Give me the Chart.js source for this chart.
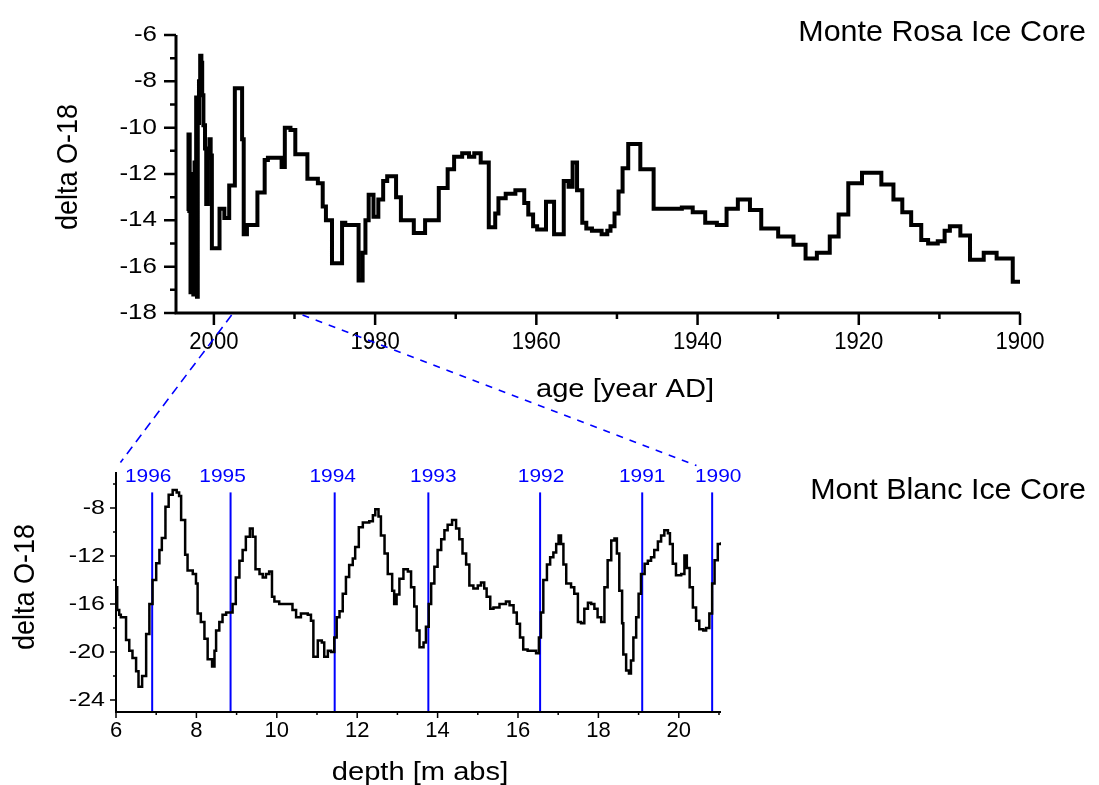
<!DOCTYPE html>
<html>
<head>
<meta charset="utf-8">
<script src="https://cdn.jsdelivr.net/npm/chart.js@4.4.1/dist/chart.umd.min.js"></script>
<style>
  html, body { margin: 0; padding: 0; background: #fff; }
  #wrap { position: relative; width: 1099px; height: 785px; }
  #wrap canvas { position: absolute; left: 0; top: 0; }
</style>
</head>
<body>
<div id="wrap">
  <canvas id="rosa" width="1099" height="785"></canvas>
  <canvas id="blanc" width="1099" height="785"></canvas>
</div>
<script>
// Monte Rosa: start year of each step and its delta O-18
var rosaYears = [
  2003.3, 2003.15, 2003.0, 2002.9, 2002.7, 2002.55, 2002.4, 2002.3, 2002.2, 2002.1,
  2002.0, 2001.85, 2001.7, 2001.55, 2001.45, 2001.3, 2001.1, 2000.95, 2000.75, 2000.55,
  2000.4, 2000.25, 1999.3, 1998.7, 1998.1, 1997.4, 1996.5, 1996.3, 1995.9, 1994.6,
  1993.7, 1993.3, 1991.6, 1991.2, 1990.5, 1989.9, 1988.4, 1987.1, 1986.5, 1986.1,
  1985.35, 1984.1, 1983.7, 1982.05, 1981.55, 1981.2, 1980.8, 1980.2, 1979.6, 1979.0,
  1978.5, 1977.4, 1976.8, 1975.2, 1973.8, 1972.1, 1971.0, 1970.2, 1969.2, 1968.35,
  1967.7, 1966.9, 1965.9, 1965.1, 1964.7, 1963.8, 1962.6, 1961.5, 1961.0, 1960.4,
  1959.9, 1958.8, 1957.8, 1956.6, 1956.0, 1955.5, 1954.95, 1954.3, 1953.8, 1953.1,
  1951.9, 1951.2, 1950.8, 1950.3, 1949.8, 1949.3, 1948.6, 1947.1, 1945.45, 1941.95,
  1940.6, 1939.05, 1937.6, 1936.4, 1935.0, 1933.5, 1932.1, 1930.0, 1928.1, 1926.6,
  1925.2, 1923.6, 1922.5, 1921.3, 1919.6, 1917.2, 1915.7, 1914.6, 1913.5, 1912.25,
  1911.4, 1910.2, 1909.35, 1908.7, 1907.4, 1906.2, 1904.5, 1902.9, 1900.9, 1900.0
];
var rosaDelta = [
  -13.6, -10.3, -12.8, -17.1, -12.0, -17.2, -11.5, -16.9, -8.7, -17.3,
  -9.8, -8.0, -6.9, -7.2, -8.6, -9.9, -10.9, -13.3, -11.3, -10.5,
  -11.2, -15.2, -13.5, -13.9, -12.5, -8.3, -10.5, -14.6, -14.2, -12.8,
  -11.4, -11.3, -11.7, -10.0, -10.1, -11.15, -12.2, -12.4, -13.4, -14.0,
  -15.85, -14.1, -14.2, -16.6, -15.4, -14.0, -12.9, -13.85, -13.1, -12.3,
  -12.1, -13.0, -14.0, -14.55, -14.0, -12.6, -11.8, -11.25, -11.1, -11.25,
  -11.1, -11.5, -14.3, -13.7, -13.05, -12.85, -12.7, -13.25, -13.75, -14.25,
  -14.4, -13.2, -14.6, -12.3, -12.55, -11.5, -12.7, -14.1, -14.35, -14.45,
  -14.6, -14.45, -14.25, -13.7, -12.75, -11.75, -10.7, -11.8, -13.5, -13.45,
  -13.65, -14.1, -14.2, -13.5, -13.1, -13.55, -14.35, -14.7, -15.05, -15.65,
  -15.4, -14.7, -13.75, -12.4, -11.95, -12.45, -13.1, -13.65, -14.2, -14.85,
  -15.0, -14.9, -14.45, -14.25, -14.65, -15.7, -15.4, -15.65, -16.65, -16.65
];

// Mont Blanc: start depth of each step [m abs] and its delta O-18
var blancDepth = [
  6.00, 6.03, 6.08, 6.12, 6.25, 6.33, 6.41, 6.50, 6.56, 6.65,
  6.75, 6.83, 6.91, 7.00, 7.08, 7.14, 7.23, 7.31, 7.41, 7.51,
  7.57, 7.62, 7.72, 7.78, 7.91, 7.99, 8.03, 8.11, 8.20, 8.28,
  8.39, 8.45, 8.49, 8.57, 8.65, 8.74, 8.90, 8.98, 9.07, 9.15,
  9.23, 9.33, 9.40, 9.47, 9.57, 9.65, 9.73, 9.81, 9.88, 9.94,
  10.06, 10.39, 10.48, 10.60, 10.77, 10.85, 10.91, 11.02, 11.12, 11.18,
  11.27, 11.35, 11.43, 11.49, 11.56, 11.64, 11.72, 11.80, 11.89, 11.95,
  12.04, 12.14, 12.30, 12.39, 12.45, 12.53, 12.59, 12.68, 12.76, 12.87,
  12.92, 12.98, 13.05, 13.15, 13.26, 13.34, 13.42, 13.48, 13.55, 13.65,
  13.71, 13.78, 13.84, 13.92, 14.00, 14.09, 14.17, 14.25, 14.36, 14.46,
  14.54, 14.62, 14.71, 14.79, 14.89, 15.00, 15.08, 15.16, 15.22, 15.31,
  15.39, 15.54, 15.70, 15.79, 15.89, 15.97, 16.05, 16.13, 16.24, 16.45,
  16.52, 16.57, 16.63, 16.72, 16.80, 16.88, 16.95, 17.01, 17.07, 17.13,
  17.20, 17.32, 17.40, 17.49, 17.57, 17.65, 17.74, 17.82, 17.90, 17.98,
  18.07, 18.15, 18.23, 18.32, 18.40, 18.46, 18.52, 18.59, 18.62, 18.69,
  18.76, 18.81, 18.87, 18.94, 19.00, 19.06, 19.15, 19.23, 19.31, 19.39,
  19.48, 19.56, 19.64, 19.73, 19.78, 19.85, 19.93, 20.06, 20.14, 20.20,
  20.27, 20.35, 20.43, 20.51, 20.61, 20.68, 20.76, 20.83, 20.89, 20.97,
  21.05
];
var blancDelta = [
  -14.6, -16.5, -16.9, -17.1, -19.0, -19.9, -20.5, -21.6, -22.9, -22.0,
  -18.5, -16.0, -14.0, -12.6, -11.5, -10.5, -7.9, -6.9, -6.5, -6.7,
  -7.0, -9.0, -11.9, -13.2, -13.5, -14.3, -16.8, -17.5, -18.9, -20.6,
  -21.2, -19.9, -18.2, -17.5, -16.9, -16.7, -16.0, -13.8, -12.4, -11.5,
  -10.4, -9.7, -10.4, -13.1, -13.5, -13.8, -13.5, -13.3, -15.4, -15.8,
  -16.0, -16.5, -17.1, -16.8, -16.9, -17.4, -20.4, -19.05, -19.2, -20.4,
  -19.9, -20.0, -18.8, -17.1, -16.6, -15.15, -13.75, -12.75, -12.2, -11.25,
  -9.6, -9.2, -9.1, -8.6, -8.1, -8.7, -10.3, -11.8, -13.5, -14.9,
  -16.0, -15.2, -13.9, -13.1, -13.3, -14.6, -16.2, -18.2, -19.6, -19.2,
  -17.9, -16.0, -14.3, -12.9, -11.5, -10.6, -9.85, -9.4, -9.0, -9.7,
  -10.6, -11.8, -12.7, -14.45, -14.7, -14.45, -14.2, -14.7, -15.4, -16.4,
  -16.3, -16.0, -15.8, -16.1, -16.7, -17.65, -18.8, -19.8, -19.9, -20.1,
  -18.8, -16.7, -14.0, -12.7, -12.1, -11.7, -11.0, -10.3, -11.0, -12.7,
  -14.3, -14.6, -15.15, -17.5, -17.6, -16.4, -15.9, -16.0, -16.4, -17.1,
  -17.5, -14.6, -12.35, -10.7, -10.55, -11.8, -14.9, -17.6, -20.2, -21.55,
  -21.8, -20.7, -18.8, -17.1, -15.15, -13.5, -12.65, -12.4, -12.1, -11.5,
  -10.8, -10.3, -9.85, -10.1, -11.0, -12.65, -13.6, -13.5, -11.95, -13.0,
  -14.6, -16.3, -17.4, -18.1, -18.2, -18.0, -16.8, -14.3, -12.35, -11.0,
  -10.85
];

// annual layer boundaries in the Mont Blanc core
var layerYears = [1996, 1995, 1994, 1993, 1992, 1991, 1990];
var layerDepth = [6.90, 8.85, 11.44, 13.77, 16.55, 19.09, 20.83];
var layerLabelShift = [-4, -8, -2, 5, 1, 0, 6];

// the Monte Rosa interval that the Mont Blanc section covers
var linkYears = [1997.8, 1989.0];
var linkDepth = [6.11, 20.44];

// ticks
var rosaYearTicks = [2000, 1980, 1960, 1940, 1920, 1900];
var rosaYearMinor = [1990, 1970, 1950, 1930, 1910];
var rosaDeltaTicks = [-6, -8, -10, -12, -14, -16, -18];
var rosaDeltaMinor = [-7, -9, -11, -13, -15, -17];
var blancDepthTicks = [6, 8, 10, 12, 14, 16, 18, 20];
var blancDepthMinor = [7, 9, 11, 13, 15, 17, 19, 21];
var blancDeltaTicks = [-8, -12, -16, -20, -24];
var blancDeltaMinor = [-6, -10, -14, -18, -22];

var FONT = '"Liberation Sans", Arial, Helvetica, sans-serif';
var BLUE = '#0000ff';

function toPoints(xs, ys) {
  return xs.map(function (x, i) { return { x: x, y: ys[i] }; });
}

// text with an optional horizontal stretch (Origin renders some glyphs wide)
function putText(ctx, str, x, y, size, o) {
  o = o || {};
  ctx.save();
  ctx.translate(x, y);
  if (o.rot) ctx.rotate(o.rot);
  ctx.scale(o.sx || 1, o.sy || 1);
  ctx.font = size + 'px ' + FONT;
  ctx.fillStyle = o.color || '#000';
  ctx.textAlign = o.align || 'center';
  ctx.textBaseline = 'middle';
  ctx.fillText(str, 0, 0);
  ctx.restore();
}

// Origin style frame: left/bottom axis lines, outward major + minor ticks, labels, titles
var framePlugin = {
  id: 'frame',
  afterDatasetsDraw: function (chart, args, o) {
    var ctx = chart.ctx, a = chart.chartArea;
    var xs = chart.scales.x, ys = chart.scales.y;
    ctx.save();
    ctx.strokeStyle = '#000';
    ctx.lineWidth = o.tickWidth;
    ctx.beginPath();
    o.xTicks.forEach(function (v) {
      var px = xs.getPixelForValue(v);
      ctx.moveTo(px, a.bottom); ctx.lineTo(px, a.bottom + o.majorLen);
    });
    o.xMinor.forEach(function (v) {
      var px = xs.getPixelForValue(v);
      ctx.moveTo(px, a.bottom); ctx.lineTo(px, a.bottom + o.minorLen);
    });
    o.yTicks.forEach(function (v) {
      var py = ys.getPixelForValue(v);
      ctx.moveTo(a.left, py); ctx.lineTo(a.left - o.majorLen, py);
    });
    o.yMinor.forEach(function (v) {
      var py = ys.getPixelForValue(v);
      ctx.moveTo(a.left, py); ctx.lineTo(a.left - o.minorLen, py);
    });
    ctx.stroke();

    ctx.lineWidth = o.axisWidth;
    ctx.lineJoin = 'miter';
    ctx.beginPath();
    ctx.moveTo(a.left, a.top);
    ctx.lineTo(a.left, a.bottom);
    ctx.lineTo(a.right, a.bottom);
    ctx.stroke();

    o.xTicks.forEach(function (v) {
      putText(ctx, String(v), xs.getPixelForValue(v), a.bottom + o.xLabelGap, o.xTickSize, { sx: o.xTickStretch });
    });
    o.yTicks.forEach(function (v) {
      putText(ctx, String(v), a.left - o.yLabelGap, ys.getPixelForValue(v), o.yTickSize, { sx: o.yTickStretch, align: 'right' });
    });

    putText(ctx, o.xTitle, o.xTitleAt[0], o.xTitleAt[1], o.titleSize, { sx: o.titleStretch });
    putText(ctx, o.yTitle, o.yTitleAt[0], o.yTitleAt[1], o.yTitleSize, { rot: -Math.PI / 2, sy: o.titleStretch });
    putText(ctx, o.name, o.nameAt[0], o.nameAt[1], o.nameSize, { sx: o.nameStretch, align: 'right' });
    ctx.restore();
  }
};

var rosaChart = new Chart(document.getElementById('rosa'), {
  type: 'scatter',
  data: {
    datasets: [{
      data: toPoints(rosaYears, rosaDelta),
      showLine: true,
      stepped: 'before',
      borderColor: '#000',
      borderWidth: 4,
      pointRadius: 0,
      fill: false
    }]
  },
  options: {
    responsive: false,
    animation: false,
    devicePixelRatio: 1,
    layout: { padding: { left: 176, top: 35, right: 79, bottom: 472 } },
    scales: {
      x: { type: 'linear', display: false, min: 1900, max: 2004.7, reverse: true },
      y: { type: 'linear', display: false, min: -18, max: -6 }
    },
    plugins: {
      legend: { display: false },
      tooltip: { enabled: false },
      frame: {
        xTicks: rosaYearTicks, xMinor: rosaYearMinor,
        yTicks: rosaDeltaTicks, yMinor: rosaDeltaMinor,
        majorLen: 12, minorLen: 6, tickWidth: 2.5, axisWidth: 3,
        xTickSize: 24, xTickStretch: 0.92, xLabelGap: 29,
        yTickSize: 22, yTickStretch: 1.18, yLabelGap: 19,
        titleSize: 26, titleStretch: 1.12, yTitleSize: 27,
        xTitle: 'age [year AD]', xTitleAt: [625, 390],
        yTitle: 'delta O-18', yTitleAt: [69, 167],
        name: 'Monte Rosa Ice Core', nameAt: [1086, 33], nameSize: 29, nameStretch: 1.05
      }
    }
  },
  plugins: [framePlugin]
});

// blue layer markers and the dashed links up to the Monte Rosa axis
var layerPlugin = {
  id: 'layers',
  beforeDatasetsDraw: function (chart) {
    var ctx = chart.ctx, a = chart.chartArea;
    var xs = chart.scales.x, ys = chart.scales.y;
    ctx.save();
    ctx.strokeStyle = BLUE;
    ctx.lineWidth = 2;
    layerDepth.forEach(function (d, i) {
      var px = xs.getPixelForValue(d);
      ctx.beginPath();
      ctx.moveTo(px, ys.getPixelForValue(-6.7));
      ctx.lineTo(px, a.bottom);
      ctx.stroke();
      putText(ctx, String(layerYears[i]), px + layerLabelShift[i], a.top + 5, 19, { sx: 1.1, color: BLUE });
    });
    ctx.restore();
  },
  afterDraw: function (chart) {
    var ctx = chart.ctx, a = chart.chartArea;
    var xs = chart.scales.x;
    var rx = rosaChart.scales.x, ry = rosaChart.scales.y;
    var dashes = [[9, 6], [7, 7]];
    var drop = [9.5, 6.5];
    ctx.save();
    ctx.strokeStyle = BLUE;
    ctx.lineWidth = 1.6;
    linkYears.forEach(function (yr, i) {
      ctx.setLineDash(dashes[i]);
      ctx.beginPath();
      ctx.moveTo(rx.getPixelForValue(yr), ry.getPixelForValue(-18) + 2);
      ctx.lineTo(xs.getPixelForValue(linkDepth[i]), a.top - drop[i]);
      ctx.stroke();
    });
    ctx.restore();
  }
};

var blancChart = new Chart(document.getElementById('blanc'), {
  type: 'scatter',
  data: {
    datasets: [{
      data: toPoints(blancDepth, blancDelta),
      showLine: true,
      stepped: 'before',
      borderColor: '#000',
      borderWidth: 2.5,
      pointRadius: 0,
      fill: false
    }]
  },
  options: {
    responsive: false,
    animation: false,
    devicePixelRatio: 1,
    layout: { padding: { left: 116, top: 472, right: 378, bottom: 73 } },
    scales: {
      x: { type: 'linear', display: false, min: 6, max: 21.05 },
      y: { type: 'linear', display: false, min: -25, max: -5 }
    },
    plugins: {
      legend: { display: false },
      tooltip: { enabled: false },
      frame: {
        xTicks: blancDepthTicks, xMinor: blancDepthMinor,
        yTicks: blancDeltaTicks, yMinor: blancDeltaMinor,
        majorLen: 6, minorLen: 3, tickWidth: 1.5, axisWidth: 2,
        xTickSize: 22, xTickStretch: 1.0, xLabelGap: 19,
        yTickSize: 20, yTickStretch: 1.25, yLabelGap: 11,
        titleSize: 26, titleStretch: 1.12, yTitleSize: 27,
        xTitle: 'depth [m abs]', xTitleAt: [420, 773],
        yTitle: 'delta O-18', yTitleAt: [26, 587],
        name: 'Mont Blanc Ice Core', nameAt: [1086, 491], nameSize: 29, nameStretch: 1.05
      }
    }
  },
  plugins: [framePlugin, layerPlugin]
});
</script>
</body>
</html>
